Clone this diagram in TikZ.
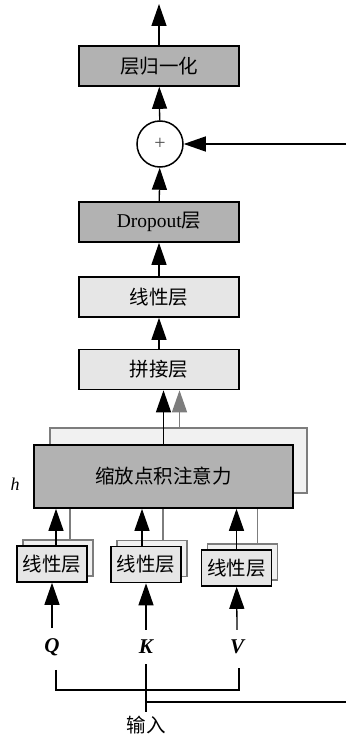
\documentclass[tikz,border=0pt]{standalone}
\usepackage{fontspec}
\setmainfont{Liberation Serif}
\newfontfamily\cjk{Noto Sans CJK SC}
\usetikzlibrary{arrows.meta}

\definecolor{boxdark}{RGB}{178,178,178}
\definecolor{boxlight}{RGB}{230,230,230}
\definecolor{boxback}{RGB}{241,241,241}
\definecolor{edgegray}{RGB}{125,125,125}

\begin{document}
\begin{tikzpicture}[x=1pt, y=-1pt,
    dbox/.style={rectangle, draw, line width=1.6pt, fill=boxdark,
                 minimum width=160pt, minimum height=40pt, inner sep=0pt,
                 font=\fontsize{19.5}{19.5}\selectfont\cjk},
    lbox/.style={dbox, fill=boxlight},
    bbox/.style={rectangle, draw=edgegray, line width=1.4pt, fill=boxback, inner sep=0pt},
    sbox/.style={rectangle, draw, line width=1.6pt, fill=boxlight,
                 minimum width=70pt, minimum height=36pt, inner sep=0pt,
                 font=\fontsize{19.5}{19.5}\selectfont\cjk},
    lbl/.style={inner sep=0pt, font=\fontsize{21}{21}\selectfont\bfseries\itshape},
    arr/.style={-{Triangle[length=22pt, width=15pt]}, line width=1.3pt},
    garr/.style={arr, draw=edgegray, fill=edgegray},
    gline/.style={draw=edgegray, line width=1.2pt},
    line/.style={line width=1.2pt},
  ]
  \useasboundingbox (0,0) rectangle (346,738);

  % --- top part ---
  \node[dbox] (norm) at (159,66) {层归一化};
  \node[circle, draw, line width=1.5pt, minimum size=46pt, inner sep=0pt,
        font=\fontsize{20}{20}\selectfont, text=black!70] (add) at (160,144) {+};
  \node[dbox, font=\fontsize{19.5}{19.5}\selectfont] (drop) at (159,222) {Dropout{\cjk 层}};
  \node[lbox] (lin) at (159,297) {线性层};
  \node[lbox] (cat) at (159,369.5) {拼接层};
  \coordinate (out) at (159,4);
  \coordinate (res) at (346,144);

  \draw[arr] (norm) -- (out);
  \draw[arr] (add) -- (norm);
  \draw[arr] (res) -- (add);
  \draw[arr] (drop) -- (add);
  \draw[arr] (lin) -- (drop);
  \draw[arr] (cat) -- (lin);

  % --- attention (h heads) ---
  \node[bbox, minimum width=257pt, minimum height=65pt] (attb) at (178.5,460.5) {};
  \node[rectangle, draw, line width=1.6pt, fill=boxdark, minimum width=259pt,
        minimum height=63pt, inner sep=0pt, font=\fontsize{19.5}{19.5}\selectfont\cjk]
        (att) at (163.5,476.5) {缩放点积注意力};
  \node[font=\fontsize{18}{18}\selectfont\itshape] (h) at (15,484) {h};

  \draw[arr] (att.north) -- (att.north |- cat.south);
  \draw[garr] ([xshift=16pt]att.north |- attb.north) -- ([xshift=16pt]att.north |- cat.south);

  % --- linear layers ---
  \node[bbox, minimum width=70pt, minimum height=36pt] (qb) at (58,558) {};
  \node[bbox, minimum width=70pt, minimum height=36pt] (kb) at (152,558.5) {};
  \node[bbox, minimum width=70pt, minimum height=36pt] (vb) at (242.5,562) {};
  \node[sbox] (q) at (52,564) {线性层};
  \node[sbox] (k) at (146,564.5) {线性层};
  \node[sbox] (v) at (236.5,568) {线性层};

  \draw[gline] ([xshift=12pt]qb.north) -- ([xshift=12pt]qb.north |- att.south);
  \draw[gline] ([xshift=11pt]kb.north) -- ([xshift=11pt]kb.north |- att.south);
  \draw[gline] ([xshift=15pt]vb.north) -- ([xshift=15pt]vb.north |- att.south);
  \draw[arr] ([xshift=4pt]q.north) -- ([xshift=4pt]q.north |- att.south);
  \draw[arr] ([xshift=-4pt]k.north) -- ([xshift=-4pt]k.north |- att.south);
  \draw[arr] (v.north) -- (v.north |- att.south);

  % --- inputs ---
  \node[lbl] (ql) at (52,647) {Q};
  \node[lbl] (kl) at (146,647) {K};
  \node[lbl] (vl) at (237,647) {V};
  \node[font=\fontsize{19.5}{19.5}\selectfont\cjk] (in) at (146,725) {输入};
  \coordinate (brk) at (146,690);
  \coordinate (back) at (346,702);

  \draw[arr] ([yshift=10pt]ql.north) -- (q);
  \draw[arr] ([yshift=10pt]kl.north) -- (k);
  \draw[arr] ([yshift=10pt]vl.north) -- (v);

  \draw[line] ([xshift=4pt, yshift=-14pt]ql.south) |- (brk) -| ([xshift=2pt, yshift=-14pt]vl.south);
  \draw[line] ([yshift=-10pt]kl.south) -- (in.north);
  \draw[line] (kl.south |- back) -- (back);

\end{tikzpicture}
\end{document}
